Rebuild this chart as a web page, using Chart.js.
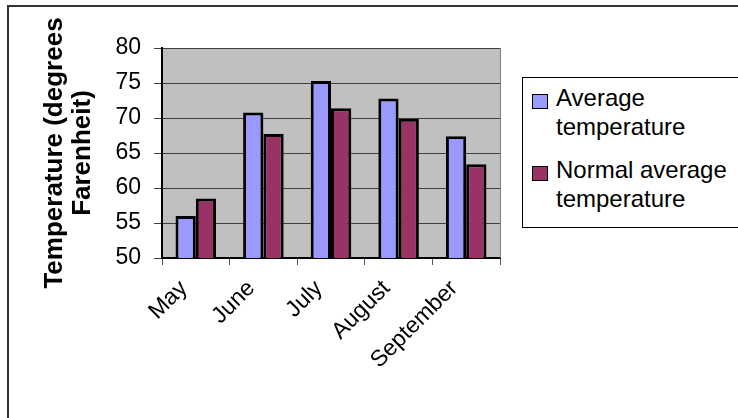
<!DOCTYPE html>
<html>
<head>
<meta charset="utf-8">
<script src="https://cdn.jsdelivr.net/npm/chart.js@4.4.0/dist/chart.umd.min.js"></script>
<style>
  body { margin: 0; background: #fff; font-family: "Liberation Sans", Arial, sans-serif; }
  #wrap { position: relative; width: 738px; height: 418px; overflow: hidden; }
  #frame { position: absolute; left: 7px; top: 5px; width: 800px; height: 500px;
           border-top: 2px solid #333; border-left: 2px solid #333; }
  #legend { position: absolute; left: 522px; top: 77px; width: 260px; height: 149px;
            border: 1px solid #000; background: #fff; }
  .item { position: absolute; left: 9px; display: flex; align-items: flex-start; }
  .box { width: 14px; height: 13px; border: 1px solid #000; margin-top: 11px; margin-right: 8px; }
  .txt { font-size: 24px; line-height: 29px; color: #000; }
  canvas { position: absolute; left: 0; top: 0; }
</style>
</head>
<body>
<div id="wrap">
  <div id="frame"></div>
  <canvas id="myChart" width="738" height="418"></canvas>
  <div id="legend"></div>
</div>
<script>
var months = ['May', 'June', 'July', 'August', 'September']
var avgTemp = [56.0, 70.8, 75.3, 72.8, 67.4]
var normalTemp = [58.5, 67.7, 71.4, 69.9, 63.4]
var seriesNames = [['Average', 'temperature'], ['Normal average', 'temperature']]
var seriesColors = ['#9999FF', '#993366']
var yTitle = ['Temperature (degrees', 'Farenheit)']

// grey plot background + right edge line
var plotBg = {
    id: 'plotBg',
    beforeDraw: function(chart) {
        var a = chart.chartArea, ctx = chart.ctx
        ctx.save()
        ctx.fillStyle = '#C0C0C0'
        ctx.fillRect(a.left, a.top, a.right - a.left, a.bottom - a.top)
        ctx.restore()
    },
    afterDraw: function(chart) {
        var a = chart.chartArea, ctx = chart.ctx
        ctx.save()
        ctx.strokeStyle = '#808080'
        ctx.lineWidth = 1
        ctx.beginPath()
        ctx.moveTo(a.right + 0.5, a.top)
        ctx.lineTo(a.right + 0.5, a.bottom)
        ctx.stroke()
        ctx.restore()
    }
}

var ctx = document.getElementById('myChart').getContext('2d')
var chart = new Chart(ctx, {
    type: 'bar',
    data: {
        labels: months,
        datasets: [{
            label: seriesNames[0].join(' '),
            backgroundColor: seriesColors[0],
            borderColor: '#000',
            borderWidth: 3,
            data: avgTemp
        }, {
            label: seriesNames[1].join(' '),
            backgroundColor: seriesColors[1],
            borderColor: '#000',
            borderWidth: 3,
            data: normalTemp
        }]
    },
    options: {
        responsive: false,
        animation: false,
        layout: { padding: { left: 0, top: 48, right: 238, bottom: 0 } },
        datasets: { bar: { categoryPercentage: 0.6, barPercentage: 1.0 } },
        plugins: { legend: { display: false }, tooltip: { enabled: false } },
        scales: {
            x: {
                grid: { display: true, drawOnChartArea: false, tickLength: 7, color: '#555' },
                border: { color: '#000', width: 2 },
                ticks: { color: '#000', maxRotation: 45, minRotation: 45, padding: 10, labelOffset: -12,
                         font: { family: 'Liberation Sans', size: 23 } },
                afterFit: function(scale) { scale.height = 160 }
            },
            y: {
                min: 50, max: 80,
                ticks: { stepSize: 5, color: '#000', padding: 13,
                         font: { family: 'Liberation Sans', size: 23 } },
                grid: { color: '#404040', tickLength: 8, lineWidth: 1 },
                border: { color: '#000', width: 2 },
                title: { display: true, text: yTitle, color: '#000',
                         font: { family: 'Liberation Sans', size: 26, weight: 'bold', lineHeight: 1.08 },
                         padding: { top: 41, bottom: 0 } },
                afterFit: function(scale) { scale.width = 162 }
            }
        }
    },
    plugins: [plotBg]
})

// legend as html, taken from the series arrays
var lg = document.getElementById('legend')
var tops = [5, 77]
for (var i = 0; i < seriesNames.length; i++) {
    var it = document.createElement('div')
    it.className = 'item'
    it.style.top = tops[i] + 'px'
    var b = document.createElement('div')
    b.className = 'box'
    b.style.background = seriesColors[i]
    var t = document.createElement('div')
    t.className = 'txt'
    t.innerHTML = seriesNames[i].join('<br>')
    it.appendChild(b)
    it.appendChild(t)
    lg.appendChild(it)
}
</script>
</body>
</html>
